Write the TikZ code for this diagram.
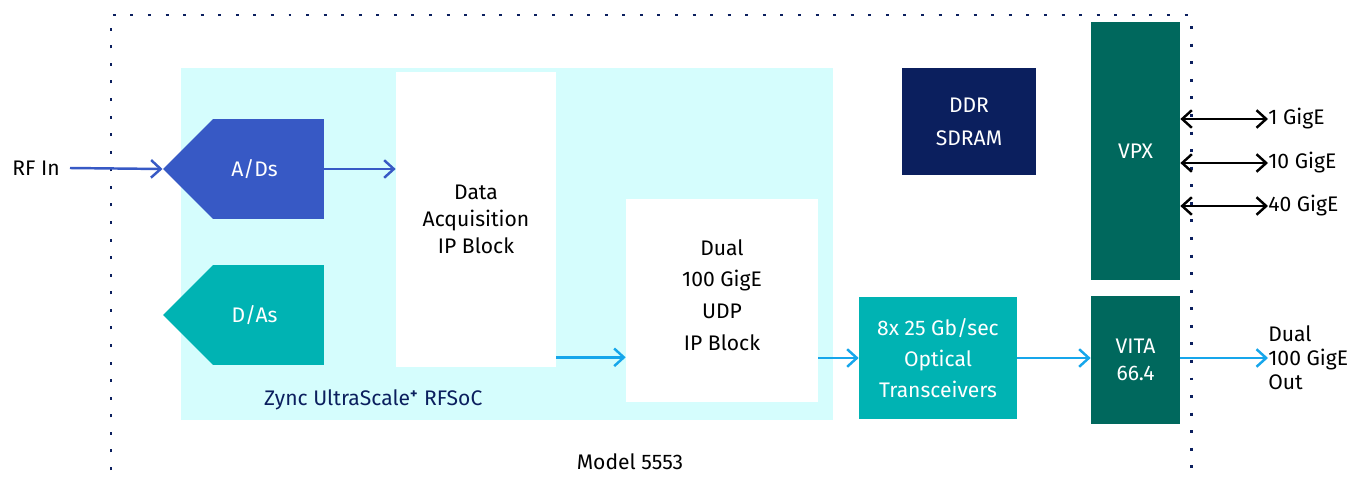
\documentclass[tikz,border=0pt]{standalone}
\usepackage{fontspec}
\setmainfont{Fira Sans}
\usetikzlibrary{arrows.meta,shapes.symbols}
\definecolor{adblue}{HTML}{3759C5}
\definecolor{dateal}{HTML}{00B3B3}
\definecolor{socbg}{HTML}{D5FDFD}
\definecolor{ddrnavy}{HTML}{0B1F5E}
\definecolor{vpxgreen}{HTML}{00685D}
\definecolor{linkblue}{HTML}{16A6EB}
\tikzset{
    block/.style={align=center, text=white, inner sep=0pt},
    tipbox/.style={signal, signal to=west, signal from=nowhere,
        inner sep=0pt, minimum width=3.22cm, minimum height=2cm},
    link/.style={linkblue, line width=1.4pt, -{Straight Barb[length=5.5pt,width=10pt]}},
    adlink/.style={adblue, line width=1.4pt, -{Straight Barb[length=5.5pt,width=10pt]}},
    gigelink/.style={black, line width=1.4pt, {Straight Barb[length=5.5pt,width=10pt]}-{Straight Barb[length=5.5pt,width=10pt]}},
    board/.style={ddrnavy, line width=1.7pt, dash pattern=on 1.7pt off 8.3pt}
}

\begin{document}
\begin{tikzpicture}[x=0.02cm, y=-0.02cm, font=\fontsize{12}{14}\selectfont]
    \useasboundingbox (0,0) rectangle (1356,484);
    \fill[socbg] (181,68) rectangle (833,420);
    \draw[board] (111,470) -- (111,15) -- (1191,15) -- (1191,470);

    \node[tipbox, fill=adblue, label={[text=white, xshift=-0.28cm]center:A/Ds}] (ad) at (268.5,169) {};
    \node[tipbox, fill=dateal, label={[text=white, xshift=-0.28cm]center:D/As}] (da) at (268.5,315) {};
    \node[block, fill=white, text=black, minimum width=3.2cm, minimum height=5.9cm,
        font=\fontsize{12}{15.3}\selectfont] (dacq) at (476,219.5) {Data\\Acquisition\\IP Block};
    \node[block, fill=white, minimum width=3.84cm, minimum height=4.06cm,
        label={[align=center, yshift=0.11cm, font=\fontsize{12}{18}\selectfont]center:Dual\\100 GigE\\UDP\\IP Block}] (udp) at (722,300.5) {};
    \node[block, fill=ddrnavy, minimum width=2.68cm, minimum height=2.14cm,
        font=\fontsize{12}{18.7}\selectfont] (ddr) at (969,121.5) {DDR\\SDRAM};
    \node[block, fill=vpxgreen, minimum width=1.78cm, minimum height=5.16cm] (vpx) at (1135.5,151) {VPX};
    \node[block, fill=vpxgreen, minimum width=1.78cm, minimum height=2.56cm,
        font=\fontsize{12}{15.3}\selectfont] (vita) at (1135.5,360) {VITA\\66.4};
    \node[block, fill=dateal, minimum width=3.16cm, minimum height=2.44cm,
        font=\fontsize{12}{17.6}\selectfont] (optic) at (938,358) {8x 25 Gb/sec\\Optical\\Transceivers};

    \node[ddrnavy, anchor=west] (soc) at (258,400) {Zync UltraScale\textsuperscript{\textbf{+}} RFSoC};
    \node (model) at (630,462) {Model 5553};
    \node[anchor=east, inner sep=0pt] (rfin) at (60,168) {RF In};
    \node[anchor=west, inner sep=0pt] (gig1) at (1268,119) {1 GigE};
    \node[anchor=west, inner sep=0pt] (gig10) at (1268,163) {10 GigE};
    \node[anchor=west, inner sep=0pt] (gig40) at (1268,206) {40 GigE};
    \node[anchor=west, inner sep=0pt, align=left, font=\fontsize{12}{13.6}\selectfont] (dualout) at (1268,358) {Dual\\100 GigE\\Out};

    \draw[adlink] ([xshift=0.2cm]rfin.east) -- (ad.west);
    \draw[adlink] (ad.east) -- (dacq.west |- ad.east);
    \draw[link] ([yshift=0.2cm]dacq.south east) coordinate (dq) -- (udp.west |- dq);
    \draw[link] (udp.east |- optic) -- (optic.west);
    \draw[link] (optic.east) -- (vita.west |- optic);
    \draw[link] (vita.east |- dualout) -- (dualout.west);
    \draw[gigelink] (vpx.east |- gig1) -- (gig1.west);
    \draw[gigelink] (vpx.east |- gig10) -- (gig10.west);
    \draw[gigelink] (vpx.east |- gig40) -- (gig40.west);
\end{tikzpicture}
\end{document}
